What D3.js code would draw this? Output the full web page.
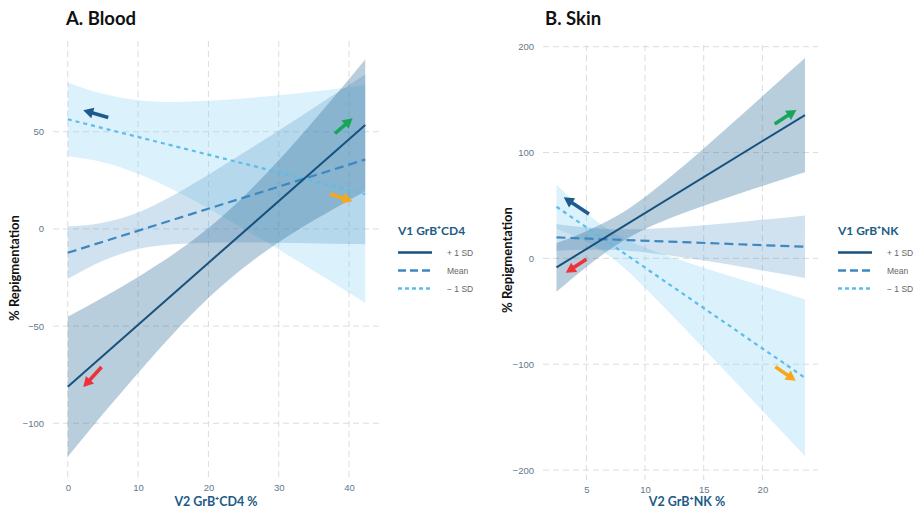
<!DOCTYPE html>
<html>
<head>
<meta charset="utf-8">
<script src="https://cdn.jsdelivr.net/npm/d3@7"></script>
<style>
  html, body { margin: 0; padding: 0; background: #ffffff; }
  svg { display: block; }
</style>
</head>
<body>
<svg id="chart" width="917" height="510"></svg>
<script>
// ---------------- DATA ----------------
// Panel A: Blood (x = V2 GrB+CD4 %)
const bloodX = [0, 5, 10, 15, 20, 25, 30, 35, 40, 42.3];
const bloodPlusHi  = [-45.2, -35.3, -24.7, -13.1, 0.4, 16.6, 35.3, 55.8, 77.2, 87.2];
const bloodPlusLo  = [-117.2, -95.3, -74.1, -53.9, -35.6, -20.0, -6.9, 4.4, 14.8, 19.4];
const bloodMeanHi  = [1.2, 3.2, 8.5, 17.3, 27.9, 39.2, 50.7, 62.4, 74.0, 79.5];
const bloodMeanLo  = [-25.8, -16.4, -10.3, -7.9, -7.1, -7.0, -7.1, -7.4, -7.8, -7.9];
const bloodMinusHi = [75.4, 69.5, 66.2, 65.3, 65.9, 67.1, 68.8, 70.7, 72.9, 73.9];
const bloodMinusLo = [37.4, 34.3, 28.4, 20.1, 10.5, 0.1, -10.6, -21.7, -32.9, -38.1];
const bloodFitX = [0, 42.3];
const bloodPlusFit  = [-81.2, 53.5];
const bloodMeanFit  = [-12.3, 35.7];
const bloodMinusFit = [56.4, 17.9];
const bloodXTicks = [0, 10, 20, 30, 40];
const bloodYTicks = [-100, -50, 0, 50];

// Panel B: Skin (x = V2 GrB+NK %)
const skinX = [2.45, 5, 7.5, 10, 12.5, 15, 17.5, 20, 22.5, 23.63];
const skinPlusHi  = [14.5, 25.7, 39.5, 58.1, 80.1, 103.9, 128.4, 153.2, 178.2, 189.4];
const skinPlusLo  = [-31.5, -8.1, 12.1, 27.7, 39.5, 49.7, 59.2, 68.4, 77.4, 81.4];
const skinMeanHi  = [32.3, 29.2, 27.6, 27.8, 29.1, 31.2, 33.7, 36.4, 39.2, 40.5];
const skinMeanLo  = [7.3, 8.2, 7.8, 5.6, 2.1, -2.0, -6.5, -11.4, -16.2, -18.5];
const skinMinusHi = [69.8, 42.8, 22.9, 10.3, 0.4, -8.8, -17.5, -26.2, -34.8, -38.6];
const skinMinusLo = [27.8, 15.8, -2.3, -27.9, -56.2, -85.2, -114.5, -144.0, -173.6, -187.0];
const skinFitX = [2.45, 23.63];
const skinPlusFit  = [-8.5, 135.4];
const skinMeanFit  = [19.8, 11.0];
const skinMinusFit = [48.8, -112.8];
const skinXTicks = [5, 10, 15, 20];
const skinYTicks = [-200, -100, 0, 100, 200];

// Legend labels
const legendLabels = ["+ 1 SD", "Mean", "\u2212 1 SD"];

// Arrow annotations (data units: x1, y1 -> x2, y2) and their kind
const bloodArrowX1 = [5.76, 38.0, 37.3, 4.8];
const bloodArrowY1 = [57.3, 49.1, 18.0, -71.1];
const bloodArrowX2 = [2.2, 40.5, 40.5, 2.2];
const bloodArrowY2 = [61.1, 57.0, 14.2, -81.4];
const skinArrowX1 = [5.22, 5.0, 21.05, 21.1];
const skinArrowY1 = [41.9, -0.9, 127.0, -102.4];
const skinArrowX2 = [3.07, 3.24, 22.9, 22.85];
const skinArrowY2 = [57.7, -13.6, 140.2, -115.6];
const arrowKinds = ["blue", "red", "green", "orange"];
const bloodArrowKinds = ["blue", "green", "orange", "red"];

// ---------------- STYLE ----------------
const C = {
  plus: "#17527e", mean: "#3b88c2", minus: "#5dbde9",
  plusFill: "#2a6a94", meanFill: "#5698c8", minusFill: "#7cccf0",
  grid: "#dcdcdc", tick: "#62798b", axisTitle: "#1d5b86",
  arrow: { blue: "#1d5b8f", red: "#ec3339", green: "#17a55a", orange: "#f6a81c" }
};
const svg = d3.select("#chart");
const fontSans = "Lato, 'Open Sans', 'Liberation Sans', Arial, sans-serif";
const fontTick = "'Liberation Sans', Arial, sans-serif";

function drawPanel(cfg) {
  const x = d3.scaleLinear().domain(cfg.xDomain).range([cfg.left, cfg.right]);
  const y = d3.scaleLinear().domain(cfg.yDomain).range([cfg.bottom, cfg.top]);
  const g = svg.append("g");

  // grid
  g.selectAll(".hg").data(cfg.yTicks).enter().append("line")
    .attr("x1", cfg.left).attr("x2", cfg.right)
    .attr("y1", d => y(d)).attr("y2", d => y(d))
    .attr("stroke", C.grid).attr("stroke-width", 1).attr("stroke-dasharray", "6,4");
  g.selectAll(".vg").data(cfg.xTicks).enter().append("line")
    .attr("y1", cfg.top).attr("y2", cfg.bottom)
    .attr("x1", d => x(d)).attr("x2", d => x(d))
    .attr("stroke", C.grid).attr("stroke-width", 1).attr("stroke-dasharray", "6,4");

  // axes (labels only)
  const ax = g.append("g").attr("transform", `translate(0,${cfg.bottom + 3})`)
    .call(d3.axisBottom(x).tickValues(cfg.xTicks).tickSize(0).tickFormat(d3.format("d")));
  const ay = g.append("g").attr("transform", `translate(${cfg.left - 6},0)`)
    .call(d3.axisLeft(y).tickValues(cfg.yTicks).tickSize(0)
      .tickFormat(d => d < 0 ? "\u2212" + Math.abs(d) : String(d)));
  [ax, ay].forEach(a => {
    a.select(".domain").remove();
    a.selectAll("text").attr("fill", C.tick).attr("font-size", 9.5)
      .attr("font-family", fontTick);
  });

  // bands
  const bands = [
    { hi: cfg.minusHi, lo: cfg.minusLo, fill: C.minusFill, op: 0.28 },
    { hi: cfg.meanHi, lo: cfg.meanLo, fill: C.meanFill, op: 0.28 },
    { hi: cfg.plusHi, lo: cfg.plusLo, fill: C.plusFill, op: 0.33 }
  ];
  bands.forEach(b => {
    const pts = cfg.bandX.map((xv, i) => ({ x: xv, hi: b.hi[i], lo: b.lo[i] }));
    const area = d3.area().x(d => x(d.x)).y0(d => y(d.lo)).y1(d => y(d.hi))
      .curve(d3.curveMonotoneX);
    g.append("path").datum(pts).attr("d", area)
      .attr("fill", b.fill).attr("fill-opacity", b.op);
  });

  // fit lines
  const lines = [
    { v: cfg.minusFit, color: C.minus, dash: "4,4", w: 2.2 },
    { v: cfg.meanFit, color: C.mean, dash: "9,5", w: 2.2 },
    { v: cfg.plusFit, color: C.plus, dash: null, w: 2 }
  ];
  lines.forEach(l => {
    const pts = cfg.fitX.map((xv, i) => ({ x: xv, y: l.v[i] }));
    g.append("path").datum(pts)
      .attr("d", d3.line().x(d => x(d.x)).y(d => y(d.y)))
      .attr("fill", "none").attr("stroke", l.color).attr("stroke-width", l.w)
      .attr("stroke-dasharray", l.dash);
  });

  // arrows
  cfg.ax1.forEach((_, i) => {
    const x1 = x(cfg.ax1[i]), y1 = y(cfg.ay1[i]), x2 = x(cfg.ax2[i]), y2 = y(cfg.ay2[i]);
    const dx = x2 - x1, dy = y2 - y1, L = Math.hypot(dx, dy);
    const ux = dx / L, uy = dy / L, px = -uy, py = ux;
    const hl = 10, hw = 5.5;
    const col = C.arrow[cfg.kinds[i]];
    g.append("line").attr("x1", x1).attr("y1", y1)
      .attr("x2", x2 - ux * (hl - 1)).attr("y2", y2 - uy * (hl - 1))
      .attr("stroke", col).attr("stroke-width", 3.6);
    const bx = x2 - ux * hl, by = y2 - uy * hl;
    g.append("path")
      .attr("d", `M${x2},${y2}L${bx + px * hw},${by + py * hw}L${bx - px * hw},${by - py * hw}Z`)
      .attr("fill", col);
  });

  // titles
  svg.append("text").attr("x", cfg.titleX).attr("y", 25)
    .attr("font-family", fontSans).attr("font-weight", 700).attr("font-size", 18.5)
    .attr("fill", "#111").text(cfg.title);
  svg.append("text").attr("x", cfg.xTitleX).attr("y", 506)
    .attr("text-anchor", "middle").attr("font-family", fontSans).attr("font-weight", 700)
    .attr("font-size", 12.5).attr("fill", C.axisTitle).text(cfg.xTitle);
  svg.append("text")
    .attr("transform", `translate(${cfg.yTitleX},${cfg.yTitleY}) rotate(-90)`)
    .attr("text-anchor", "middle").attr("font-family", fontSans).attr("font-weight", 700)
    .attr("font-size", 13).attr("fill", "#111").text("% Repigmentation");

  // legend
  const lg = svg.append("g");
  lg.append("text").attr("x", cfg.legX).attr("y", 235)
    .attr("font-family", fontSans).attr("font-weight", 700).attr("font-size", 12)
    .attr("fill", C.axisTitle).text(cfg.legTitle);
  const legStyles = [
    { color: C.plus, dash: null, w: 2.4 },
    { color: C.mean, dash: "8,4", w: 2.4 },
    { color: C.minus, dash: "4,3", w: 2.4 }
  ];
  legendLabels.forEach((lab, i) => {
    const yy = 252.5 + i * 18;
    lg.append("line").attr("x1", cfg.legX).attr("x2", cfg.legX + 34)
      .attr("y1", yy).attr("y2", yy)
      .attr("stroke", legStyles[i].color).attr("stroke-width", legStyles[i].w)
      .attr("stroke-dasharray", legStyles[i].dash);
    lg.append("text").attr("x", cfg.legX + 49).attr("y", yy + 3)
      .attr("font-family", fontTick).attr("font-size", 8.5).attr("fill", "#666")
      .text(lab);
  });
}

drawPanel({
  left: 53, right: 380, top: 41, bottom: 478,
  xDomain: [-2.1, 44.4], yDomain: [-128.2, 96.7],
  xTicks: bloodXTicks, yTicks: bloodYTicks,
  bandX: bloodX, plusHi: bloodPlusHi, plusLo: bloodPlusLo,
  meanHi: bloodMeanHi, meanLo: bloodMeanLo, minusHi: bloodMinusHi, minusLo: bloodMinusLo,
  fitX: bloodFitX, plusFit: bloodPlusFit, meanFit: bloodMeanFit, minusFit: bloodMinusFit,
  ax1: bloodArrowX1, ay1: bloodArrowY1, ax2: bloodArrowX2, ay2: bloodArrowY2, kinds: bloodArrowKinds,
  title: "A. Blood", titleX: 66,
  xTitle: "V2 GrB\u207ACD4 %", xTitleX: 216,
  yTitleX: 19, yTitleY: 268,
  legTitle: "V1 GrB\u207ACD4", legX: 398
});

drawPanel({
  left: 543, right: 818, top: 45, bottom: 480,
  xDomain: [1.3, 24.74], yDomain: [-209.4, 201.6],
  xTicks: skinXTicks, yTicks: skinYTicks,
  bandX: skinX, plusHi: skinPlusHi, plusLo: skinPlusLo,
  meanHi: skinMeanHi, meanLo: skinMeanLo, minusHi: skinMinusHi, minusLo: skinMinusLo,
  fitX: skinFitX, plusFit: skinPlusFit, meanFit: skinMeanFit, minusFit: skinMinusFit,
  ax1: skinArrowX1, ay1: skinArrowY1, ax2: skinArrowX2, ay2: skinArrowY2, kinds: arrowKinds,
  title: "B. Skin", titleX: 545,
  xTitle: "V2 GrB\u207ANK %", xTitleX: 687,
  yTitleX: 512, yTitleY: 260,
  legTitle: "V1 GrB\u207ANK", legX: 838
});
</script>
</body>
</html>
